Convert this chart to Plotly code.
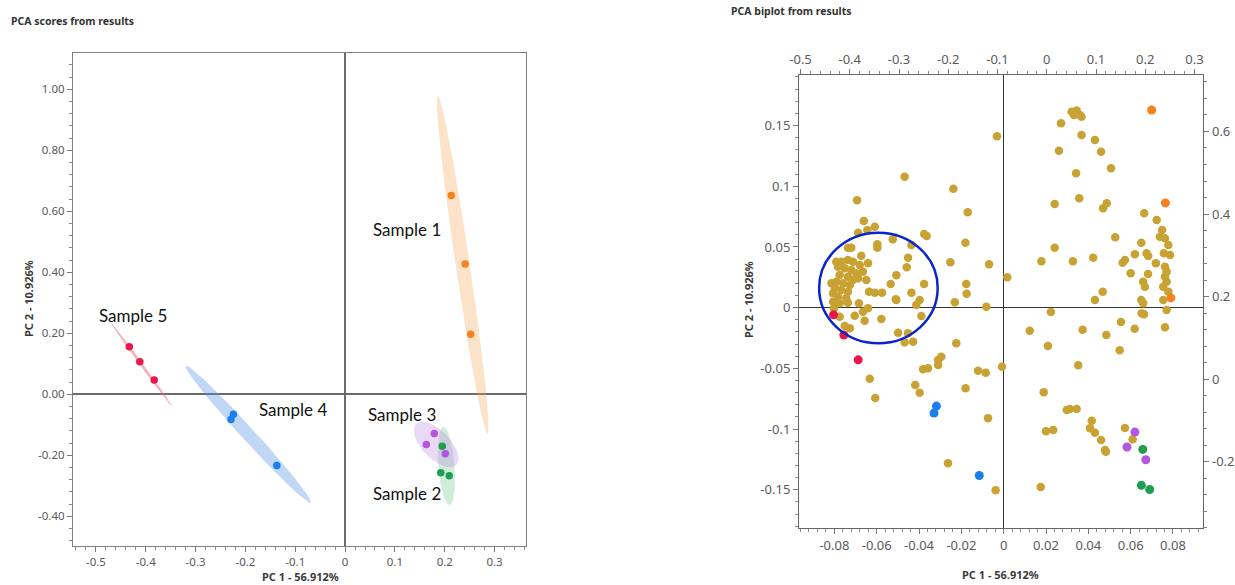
import numpy as np
import plotly.graph_objects as go

# ---------------- data ----------------
sample_names = ["Sample 1", "Sample 2", "Sample 3", "Sample 4", "Sample 5"]
s1_pc1 = [0.213, 0.241, 0.252]
s1_pc2 = [0.652, 0.427, 0.197]
s2_pc1 = [0.195, 0.192, 0.209]
s2_pc2 = [-0.170, -0.257, -0.267]
s3_pc1 = [0.179, 0.163, 0.201]
s3_pc2 = [-0.128, -0.164, -0.195]
s4_pc1 = [-0.224, -0.229, -0.137]
s4_pc2 = [-0.065, -0.082, -0.233]
s5_pc1 = [-0.433, -0.412, -0.383]
s5_pc2 = [0.156, 0.107, 0.047]

# confidence ellipses: major-axis end points (PC1, PC2) and half width (px)
ell_s1 = [(0.186, 0.979), (0.286, -0.130)]
ell_s2 = [(0.1974, -0.106), (0.2094, -0.363)]
ell_s3 = [(0.1426, -0.097), (0.223, -0.232)]
ell_s4 = [(-0.320, 0.094), (-0.069, -0.355)]
ell_s5 = [(-0.469, 0.233), (-0.347, -0.040)]
ell_halfwidth = [7, 8, 14, 6.5, 1.5]

# loadings (biplot, bottom / left axes)
loading_pc1 = [
    -0.0032, -0.0468, -0.0238, -0.0693, -0.0170, -0.0661, -0.0644, -0.0609, -0.0688, -0.0376,
    -0.0364, -0.0524, -0.0597, -0.0597, -0.0436, -0.0181, -0.0736, -0.0720, -0.0673, -0.0452,
    -0.0252, -0.0069, -0.0458, -0.0507, -0.0376, -0.0534, -0.0177, -0.0175, -0.0636, -0.0609,
    -0.0575, -0.0436, -0.0510, -0.0397, -0.0413, -0.0231, -0.0082, -0.0684,
    -0.0767, -0.0736, -0.0712, -0.0680, -0.0641, -0.0783, -0.0751, -0.0720, -0.0696, -0.0775,
    -0.0736, -0.0688, -0.0649, -0.0791, -0.0759, -0.0727, -0.0798, -0.0767, -0.0736, -0.0806,
    -0.0783, -0.0744, -0.0806, -0.0775, -0.0736, -0.0802, -0.0641, -0.0814, -0.0712, -0.0665,
    -0.0791, -0.0665, -0.0507,
    -0.0775, -0.0704, -0.0657, -0.0578, -0.0751, -0.0727, -0.0389, -0.0499, -0.0452, -0.0468,
    -0.0428, -0.0224, -0.0295, -0.0310, -0.0310, -0.0381, -0.0358, -0.0121, -0.0085, -0.0008,
    -0.0633, -0.0418, -0.0397, -0.0180, -0.0607, -0.0074, -0.0263, -0.0038,
    0.0321, 0.0345, 0.0360, 0.0332, 0.0368, 0.0271, 0.0368, 0.0431, 0.0261, 0.0460,
    0.0507, 0.0342, 0.0357, 0.0241, 0.0487, 0.0470, 0.0664, 0.0723, 0.0749, 0.0738,
    0.0762, 0.0778, 0.0527, 0.0650, 0.0241, 0.0675, 0.0683, 0.0620, 0.0757, 0.0786,
    0.0423, 0.0573, 0.0562, 0.0178, 0.0327, 0.0719, 0.0762, 0.0770, 0.0762, 0.0770,
    0.0754, 0.0778, 0.0600, 0.0682, 0.0659, 0.0667, 0.0017, 0.0468, 0.0650, 0.0659,
    0.0431, 0.0754, 0.0223,
    0.0770, 0.0652, 0.0663, 0.0123, 0.0373, 0.0554, 0.0619, 0.0762, 0.0485, 0.0209,
    0.0548, 0.0352, 0.0189, 0.0298, 0.0313, 0.0345, 0.0416, 0.0408, 0.0431, 0.0200,
    0.0234, 0.0573, 0.0609, 0.0460, 0.0479, 0.0483, 0.0175,
]
loading_pc2 = [
    0.1412, 0.1079, 0.0980, 0.0885, 0.0786, 0.0714, 0.0640, 0.0667, 0.0618, 0.0607,
    0.0591, 0.0563, 0.0522, 0.0494, 0.0516, 0.0535, 0.0494, 0.0494, 0.0428, 0.0412,
    0.0374, 0.0357, 0.0333, 0.0267, 0.0195, 0.0195, 0.0195, 0.0115, 0.0132, 0.0124,
    0.0124, 0.0124, 0.0069, 0.0063, 0.0022, 0.0044, 0.0008, 0.0036,
    0.0379, 0.0393, 0.0379, 0.0352, 0.0366, 0.0338, 0.0325, 0.0311, 0.0283, 0.0269,
    0.0255, 0.0242, 0.0228, 0.0214, 0.0201, 0.0187, 0.0160, 0.0146, 0.0132, 0.0119,
    0.0091, 0.0077, 0.0049, 0.0036, 0.0041, -0.0005, -0.0005, 0.0201, 0.0228, 0.0297,
    0.0379, -0.0033, 0.0063,
    -0.0074, -0.0066, -0.0107, -0.0093, -0.0151, -0.0170, -0.0068, -0.0206, -0.0211, -0.0285,
    -0.0280, -0.0293, -0.0404, -0.0431, -0.0472, -0.0507, -0.0499, -0.0519, -0.0535, -0.0486,
    -0.0585, -0.0637, -0.0700, -0.0664, -0.0744, -0.0911, -0.1282, -0.1504,
    0.1614, 0.1623, 0.1587, 0.1587, 0.1573, 0.1519, 0.1423, 0.1381, 0.1293, 0.1285,
    0.1148, 0.1107, 0.0901, 0.0854, 0.0860, 0.0819, 0.0778, 0.0722, 0.0640, 0.0585,
    0.0572, 0.0516, 0.0580, 0.0535, 0.0494, 0.0448, 0.0426, 0.0440, 0.0448, 0.0434,
    0.0412, 0.0393, 0.0371, 0.0382, 0.0382, 0.0366, 0.0338, 0.0297, 0.0255, 0.0214,
    0.0173, 0.0132, 0.0283, 0.0278, 0.0214, 0.0173, 0.0250, 0.0132, 0.0063, 0.0036,
    0.0063, 0.0063, -0.0035,
    -0.0019, -0.0046, -0.0054, -0.0189, -0.0181, -0.0118, -0.0173, -0.0161, -0.0225, -0.0315,
    -0.0351, -0.0474, -0.0697, -0.0843, -0.0834, -0.0834, -0.0931, -0.0993, -0.1030, -0.1018,
    -0.1007, -0.0991, -0.1084, -0.1090, -0.1172, -0.1186, -0.1477,
]

# tick labels
left_x_ticks = [-0.5, -0.4, -0.3, -0.2, -0.1, 0, 0.1, 0.2, 0.3]
left_x_text = ["-0.5", "-0.4", "-0.3", "-0.2", "-0.1", "0", "0.1", "0.2", "0.3"]
left_y_ticks = [-0.4, -0.2, 0, 0.2, 0.4, 0.6, 0.8, 1.0]
left_y_text = ["-0.40", "-0.20", "0.00", "0.20", "0.40", "0.60", "0.80", "1.00"]
bot_x_ticks = [-0.08, -0.06, -0.04, -0.02, 0, 0.02, 0.04, 0.06, 0.08]
bot_x_text = ["-0.08", "-0.06", "-0.04", "-0.02", "0", "0.02", "0.04", "0.06", "0.08"]
lft_y_ticks = [-0.15, -0.1, -0.05, 0, 0.05, 0.1, 0.15]
lft_y_text = ["-0.15", "-0.1", "-0.05", "0", "0.05", "0.1", "0.15"]
top_x_ticks = [-0.5, -0.4, -0.3, -0.2, -0.1, 0, 0.1, 0.2, 0.3]
top_x_text = ["-0.5", "-0.4", "-0.3", "-0.2", "-0.1", "0", "0.1", "0.2", "0.3"]
rgt_y_ticks = [-0.2, 0, 0.2, 0.4, 0.6]
rgt_y_text = ["-0.2", "0", "0.2", "0.4", "0.6"]

# ---------------- styling ----------------
W, H = 1235, 585
colors = ["#f5821f", "#1e9e50", "#b456e0", "#1a7fe8", "#e8174a"]
fills = ["rgba(247,166,90,0.33)", "rgba(110,200,140,0.32)", "rgba(185,130,225,0.30)",
         "rgba(90,150,230,0.38)", "rgba(235,110,135,0.55)"]
gold = "#c8a334"

L_xdom, L_ydom = [0.0591, 0.4259], [0.0667, 0.9094]
L_xr, L_yr = [-0.546, 0.363], [-0.497, 1.119]
R_xdom, R_ydom = [0.647, 0.9743], [0.0969, 0.8713]

sx = (L_xdom[1] - L_xdom[0]) * W / (L_xr[1] - L_xr[0])
sy = (L_ydom[1] - L_ydom[0]) * H / (L_yr[1] - L_yr[0])


def ellipse(ends, hw):
    (ax, ay), (bx, by) = ends
    P = np.array([ax * sx, ay * sy])
    Q = np.array([bx * sx, by * sy])
    c = (P + Q) / 2
    u = (Q - P) / 2
    n = np.array([-u[1], u[0]])
    n = n / np.linalg.norm(n) * hw
    t = np.linspace(0, 2 * np.pi, 120)
    pts = c[:, None] + np.outer(u, np.cos(t)) + np.outer(n, np.sin(t))
    return pts[0] / sx, pts[1] / sy


pc1s = [s1_pc1, s2_pc1, s3_pc1, s4_pc1, s5_pc1]
pc2s = [s1_pc2, s2_pc2, s3_pc2, s4_pc2, s5_pc2]
ells = [ell_s1, ell_s2, ell_s3, ell_s4, ell_s5]

fig = go.Figure()

# ellipses (left)
for i in range(5):
    ex, ey = ellipse(ells[i], ell_halfwidth[i])
    fig.add_trace(go.Scatter(x=ex, y=ey, mode="lines", fill="toself", fillcolor=fills[i],
                             line=dict(width=0), hoverinfo="skip", xaxis="x", yaxis="y"))
# scores (left)
for i in range(5):
    fig.add_trace(go.Scatter(x=pc1s[i], y=pc2s[i], mode="markers", name=sample_names[i],
                             marker=dict(color=colors[i], size=7.5), xaxis="x", yaxis="y"))

# loadings (right)
fig.add_trace(go.Scatter(x=loading_pc1, y=loading_pc2, mode="markers",
                         marker=dict(color=gold, size=8.5), xaxis="x2", yaxis="y2"))
# scores (right, top/right axes)
for i in range(5):
    fig.add_trace(go.Scatter(x=pc1s[i], y=pc2s[i], mode="markers",
                             marker=dict(color=colors[i], size=9), xaxis="x3", yaxis="y3"))

tickfont_l = dict(family="Noto Sans", size=11.5, color="#5a5a5a")
tickfont_r = dict(family="Noto Sans", size=13, color="#5a5a5a")


def ax(dom, rng, tv, tt, minor, font, **kw):
    d = dict(domain=dom, range=rng, tickmode="array", tickvals=tv, ticktext=tt,
             ticks="outside", ticklen=5, tickcolor="#777", tickwidth=1,
             minor=dict(ticks="outside", ticklen=3, tickcolor="#888", tick0=0, dtick=minor, showgrid=False),
             showline=True, linecolor="#808080", linewidth=1.2, showgrid=False,
             tickfont=font, zeroline=False, automargin=False)
    d.update(kw)
    return d


fig.update_layout(
    width=W, height=H, margin=dict(l=0, r=0, t=0, b=0, autoexpand=False),
    paper_bgcolor="white", plot_bgcolor="white", showlegend=False,
    xaxis=ax(L_xdom, L_xr, left_x_ticks, left_x_text, 0.02, tickfont_l, anchor="y", mirror=True,
             zeroline=True, zerolinecolor="#6a6a6a", zerolinewidth=1.5),
    yaxis=ax(L_ydom, L_yr, left_y_ticks, left_y_text, 0.04, tickfont_l, anchor="x", mirror=True,
             zeroline=True, zerolinecolor="#6a6a6a", zerolinewidth=1.5),
    xaxis2=ax(R_xdom, [-0.0967, 0.0943], bot_x_ticks, bot_x_text, 0.004, tickfont_r, anchor="y2",
              linecolor="#666", zeroline=True, zerolinecolor="#333", zerolinewidth=1.2),
    yaxis2=ax(R_ydom, [-0.1817, 0.1914], lft_y_ticks, lft_y_text, 0.01, tickfont_r, anchor="x2",
              linecolor="#666", zeroline=True, zerolinecolor="#333", zerolinewidth=1.2),
    xaxis3=ax(R_xdom, [-0.503, 0.3178], top_x_ticks, top_x_text, 0.02, tickfont_r,
              anchor="y2", overlaying="x2", side="top", linecolor="#666"),
    yaxis3=ax(R_ydom, [-0.361, 0.736], rgt_y_ticks, rgt_y_text, 0.04, tickfont_r,
              anchor="x2", overlaying="y2", side="right", linecolor="#666"),
)

# highlighted cluster circle (bottom/left axes of biplot)
circle_x = [-0.0872, -0.0312]
circle_y = [-0.0293, 0.0618]
fig.add_shape(type="circle", xref="x2", yref="y2", x0=circle_x[0], x1=circle_x[1],
              y0=circle_y[0], y1=circle_y[1], line=dict(color="#0a25c8", width=2.5))

# sample labels
label_pos = [(0.124, 0.542), (0.125, -0.325), (0.114, -0.066), (-0.105, -0.051), (-0.425, 0.257)]
for name, (lx, ly) in zip(sample_names, label_pos):
    fig.add_annotation(x=lx, y=ly, xref="x", yref="y", text=name, showarrow=False,
                       font=dict(family="Lato", size=17, color="#111"))

title_font = dict(family="Noto Sans", size=10.5, color="#333")
axis_font = dict(family="Noto Sans", size=11, color="#3a3a3a")
fig.add_annotation(x=9 / W, y=1 - 21 / H, xref="paper", yref="paper", xanchor="left", yanchor="middle",
                   text="<b>PCA scores from results</b>", showarrow=False, font=title_font)
fig.add_annotation(x=729 / W, y=1 - 11 / H, xref="paper", yref="paper", xanchor="left", yanchor="middle",
                   text="<b>PCA biplot from results</b>", showarrow=False, font=title_font)
fig.add_annotation(x=28 / W, y=1 - 299 / H, xref="paper", yref="paper", textangle=-90,
                   xanchor="center", yanchor="middle",
                   text="<b>PC 2 - 10.926%</b>", showarrow=False, font=axis_font)
fig.add_annotation(x=300 / W, y=0, xref="paper", yref="paper", xanchor="center", yanchor="bottom",
                   borderpad=0,
                   text="<b>PC 1 - 56.912%</b>", showarrow=False, font=axis_font)
fig.add_annotation(x=748 / W, y=1 - 300 / H, xref="paper", yref="paper", textangle=-90,
                   xanchor="center", yanchor="middle",
                   text="<b>PC 2 - 10.926%</b>", showarrow=False, font=axis_font)
fig.add_annotation(x=1000 / W, y=1 - 574 / H, xref="paper", yref="paper", xanchor="center", yanchor="middle",
                   text="<b>PC 1 - 56.912%</b>", showarrow=False, font=axis_font)

fig.write_html("out.html")
